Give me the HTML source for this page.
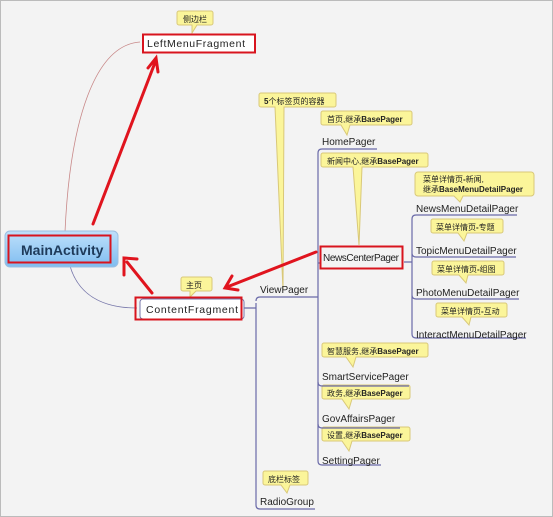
<!DOCTYPE html>
<html><head><meta charset="utf-8"><style>
html,body{margin:0;padding:0;background:#f3f3f3;}
svg{display:block;}
text{font-family:"Liberation Sans","Noto Sans CJK SC",sans-serif;}
.t{font-size:10px;fill:#222;}
.c{font-size:8px;fill:#222;}
.b{font-weight:bold;}
.cb{fill:#fbf59a;stroke:#d9c878;stroke-width:1;}
.u{stroke:#6a6aa8;stroke-width:1.2;fill:none;}
</style></head><body>
<svg width="553" height="517" viewBox="0 0 553 517" xmlns="http://www.w3.org/2000/svg">
<defs>
<linearGradient id="g" x1="0" y1="0" x2="0" y2="1"><stop offset="0" stop-color="#bfe0fb"/><stop offset="1" stop-color="#7fbdf0"/></linearGradient>
</defs>
<rect x="0.5" y="0.5" width="552" height="516" fill="#f3f3f3" stroke="#bbb"/>
<path d="M140,42 C95,45 70,120 65,232" fill="none" stroke="#c88888" stroke-width="0.8"/>
<path d="M70,266 C80,300 110,308 137,308" fill="none" stroke="#7777aa" stroke-width="0.8"/>
<g>
<path class="cb" d="M179,11 h32 a2,2 0 0 1 2,2 v10 a2,2 0 0 1 -2,2 h-14 l-5,8 l0,-8 h-13 a2,2 0 0 1 -2,-2 v-10 a2,2 0 0 1 2,-2z"/>
<text class="c" x="183" y="22">侧边栏</text>
<path class="cb" d="M183,277 h27 a2,2 0 0 1 2,2 v10 a2,2 0 0 1 -2,2 h-14 l-6,6 l0,-6 h-7 a2,2 0 0 1 -2,-2 v-10 a2,2 0 0 1 2,-2z"/>
<text class="c" x="186" y="288">主页</text>
<path class="cb" d="M261,93 h73 a2,2 0 0 1 2,2 v10 a2,2 0 0 1 -2,2 h-50 l-1,183 l-8,-183 h-14 a2,2 0 0 1 -2,-2 v-10 a2,2 0 0 1 2,-2z"/>
<text class="c" x="264" y="104"><tspan class="b">5</tspan>个标签页的容器</text>
<path class="cb" d="M323,111 h87 a2,2 0 0 1 2,2 v10 a2,2 0 0 1 -2,2 h-60 l-3,10 l-6,-10 h-18 a2,2 0 0 1 -2,-2 v-10 a2,2 0 0 1 2,-2z"/>
<text class="c" x="327" y="122">首页,继承<tspan class="b">BasePager</tspan></text>
<path class="cb" d="M323,153 h103 a2,2 0 0 1 2,2 v10 a2,2 0 0 1 -2,2 h-64 l-3,78 l-6,-78 h-30 a2,2 0 0 1 -2,-2 v-10 a2,2 0 0 1 2,-2z"/>
<text class="c" x="327" y="164">新闻中心,继承<tspan class="b">BasePager</tspan></text>
<path class="cb" d="M418,172 h113 a3,3 0 0 1 3,3 v18 a3,3 0 0 1 -3,3 h-68 l-3,6 l-6,-6 h-36 a3,3 0 0 1 -3,-3 v-18 a3,3 0 0 1 3,-3z"/>
<text class="c" x="423" y="182">菜单详情页<tspan class="b">-</tspan>新闻,</text>
<text class="c" x="423" y="192">继承<tspan class="b">BaseMenuDetailPager</tspan></text>
<path class="cb" d="M433,219 h68 a2,2 0 0 1 2,2 v10 a2,2 0 0 1 -2,2 h-34 l-3,8 l-6,-8 h-25 a2,2 0 0 1 -2,-2 v-10 a2,2 0 0 1 2,-2z"/>
<text class="c" x="436" y="230">菜单详情页<tspan class="b">-</tspan>专题</text>
<path class="cb" d="M434,261 h68 a2,2 0 0 1 2,2 v10 a2,2 0 0 1 -2,2 h-34 l-2,8 l-7,-8 h-25 a2,2 0 0 1 -2,-2 v-10 a2,2 0 0 1 2,-2z"/>
<text class="c" x="437" y="272">菜单详情页<tspan class="b">-</tspan>组图</text>
<path class="cb" d="M438,303 h67 a2,2 0 0 1 2,2 v10 a2,2 0 0 1 -2,2 h-34 l-2,8 l-7,-8 h-24 a2,2 0 0 1 -2,-2 v-10 a2,2 0 0 1 2,-2z"/>
<text class="c" x="441" y="314">菜单详情页<tspan class="b">-</tspan>互动</text>
<path class="cb" d="M324,343 h102 a2,2 0 0 1 2,2 v10 a2,2 0 0 1 -2,2 h-70 l-3,10 l-7,-10 h-22 a2,2 0 0 1 -2,-2 v-10 a2,2 0 0 1 2,-2z"/>
<text class="c" x="327" y="354">智慧服务,继承<tspan class="b">BasePager</tspan></text>
<path class="cb" d="M324,385 h84 a2,2 0 0 1 2,2 v10 a2,2 0 0 1 -2,2 h-56 l-3,10 l-7,-10 h-18 a2,2 0 0 1 -2,-2 v-10 a2,2 0 0 1 2,-2z"/>
<text class="c" x="327" y="396">政务,继承<tspan class="b">BasePager</tspan></text>
<path class="cb" d="M324,427 h84 a2,2 0 0 1 2,2 v10 a2,2 0 0 1 -2,2 h-56 l-3,10 l-7,-10 h-18 a2,2 0 0 1 -2,-2 v-10 a2,2 0 0 1 2,-2z"/>
<text class="c" x="327" y="438">设置,继承<tspan class="b">BasePager</tspan></text>
<path class="cb" d="M265,471 h41 a2,2 0 0 1 2,2 v10 a2,2 0 0 1 -2,2 h-16 l-3,8 l-6,-8 h-16 a2,2 0 0 1 -2,-2 v-10 a2,2 0 0 1 2,-2z"/>
<text class="c" x="268" y="482">底栏标签</text>
</g>
<path class="u" d="M242,308 H256 M256,303 V505 q0,4 4,4 H315 M256,301 q0,-4 4,-4 H316"/>
<path class="u" d="M318,153 V461 q0,4 4,4 H381 M318,153 q0,-4 4,-4 H377"/>
<path class="u" d="M316,297 H318 M318,382 q0,4 4,4 H409 M318,424 q0,4 4,4 H400 M318,263 H320"/>
<path class="u" d="M404,262 H412 M412,219 V334 q0,4 4,4 H526 M412,219 q0,-4 4,-4 H517 M412,253 q0,4 4,4 H516 M412,295 q0,4 4,4 H519"/>
<rect x="5" y="231" width="113" height="36" rx="5" fill="url(#g)" stroke="#9cbfe0"/>
<rect x="8.5" y="235.5" width="102" height="27" fill="none" stroke="#d8141e" stroke-width="2"/>
<text x="21" y="255" style="font-size:14px;font-weight:bold;fill:#1e3a5a">MainActivity</text>
<rect x="142" y="34" width="113" height="18" fill="#fff"/>
<rect x="143" y="34.5" width="112" height="18" fill="none" stroke="#d8141e" stroke-width="2"/>
<text class="t" x="147" y="47" style="font-size:10.5px" textLength="98">LeftMenuFragment</text>
<rect x="140" y="299" width="104" height="20" rx="3" fill="#fff" stroke="#7777aa"/>
<rect x="135.5" y="297.5" width="106" height="22" fill="none" stroke="#d8141e" stroke-width="2"/>
<text class="t" x="146" y="313" style="font-size:10.5px" textLength="92">ContentFragment</text>
<rect x="320.5" y="246.5" width="82" height="22" fill="none" stroke="#d8141e" stroke-width="2"/>
<text class="t" x="323" y="261" textLength="76">NewsCenterPager</text>
<text class="t" x="260" y="293">ViewPager</text>
<text class="t" x="260" y="505">RadioGroup</text>
<text class="t" x="322" y="145">HomePager</text>
<text class="t" x="322" y="380">SmartServicePager</text>
<text class="t" x="322" y="422">GovAffairsPager</text>
<text class="t" x="322" y="464">SettingPager</text>
<text class="t" x="416" y="212">NewsMenuDetailPager</text>
<text class="t" x="416" y="254">TopicMenuDetailPager</text>
<text class="t" x="416" y="296">PhotoMenuDetailPager</text>
<text class="t" x="416" y="338">InteractMenuDetailPager</text>
<g stroke="#e0141e" stroke-width="3" fill="none" stroke-linecap="round">
<path d="M93,224 L156,60 M148,68 L156,58 L158,72"/>
<path d="M152,293 L127,262 M124,275 L124,258 L137,259"/>
<path d="M316,252 L227,287 M232,276 L225,288 L238,290"/>
</g>
</svg>
</body></html>
